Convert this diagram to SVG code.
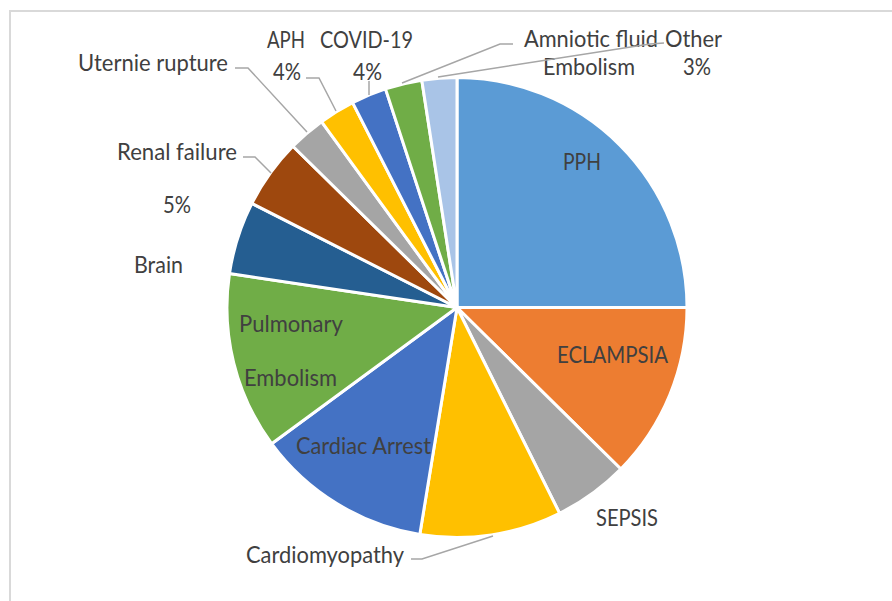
<svg xmlns="http://www.w3.org/2000/svg" width="892" height="601" viewBox="0 0 892 601">
<style>
.s{stroke:#fff;stroke-width:3;stroke-linejoin:round}
.t{font-family:Lato,"Open Sans",sans-serif;font-size:22.5px;fill:#404040;text-anchor:middle}
.l{fill:none;stroke:#a6a6a6;stroke-width:1.5}
</style>
<rect x="0" y="0" width="892" height="601" fill="#fff"/>
<rect x="10" y="11" width="900" height="620" fill="#fff" stroke="#d9d9d9" stroke-width="2"/>
<g id="slices">
<g id="pph"><path class="s" fill="#5B9BD5" d="M457 307.5L457 77.5A230 230 0 0 1 687 307.5Z"/><text class="t" x="582" y="170" textLength="38" lengthAdjust="spacingAndGlyphs">PPH</text></g>
<g id="eclampsia"><path class="s" fill="#ED7D31" d="M457 307.5L687 307.5A230 230 0 0 1 620.8 469Z"/><text class="t" x="612.5" y="363" textLength="111" lengthAdjust="spacingAndGlyphs">ECLAMPSIA</text></g>
<g id="sepsis"><path class="s" fill="#A5A5A5" d="M457 307.5L620.8 469A230 230 0 0 1 559.6 513.3Z"/><text class="t" x="627" y="526" textLength="62" lengthAdjust="spacingAndGlyphs">SEPSIS</text></g>
<g id="cardiomyopathy"><path class="s" fill="#FFC000" d="M457 307.5L559.6 513.3A230 230 0 0 1 419.8 534.5Z"/><text class="t" x="325" y="563" textLength="158" lengthAdjust="spacingAndGlyphs">Cardiomyopathy</text></g>
<g id="cardiac"><path class="s" fill="#4472C4" d="M457 307.5L419.8 534.5A230 230 0 0 1 271.6 443.7Z"/><text class="t" x="363.5" y="454" textLength="135" lengthAdjust="spacingAndGlyphs">Cardiac Arrest</text></g>
<g id="pulmonary"><path class="s" fill="#70AD47" d="M457 307.5L271.6 443.7A230 230 0 0 1 229.5 273.5Z"/><text class="t" x="291" y="332" textLength="104" lengthAdjust="spacingAndGlyphs">Pulmonary</text><text class="t" x="290.5" y="386" textLength="93" lengthAdjust="spacingAndGlyphs">Embolism</text></g>
<g id="brain"><path class="s" fill="#255E91" d="M457 307.5L229.5 273.5A230 230 0 0 1 251.9 203.4Z"/><text class="t" x="158.5" y="273" textLength="49" lengthAdjust="spacingAndGlyphs">Brain</text></g>
<g id="renal"><path class="s" fill="#9E480E" d="M457 307.5L251.9 203.4A230 230 0 0 1 292.9 146.3Z"/><text class="t" x="177" y="160" textLength="120" lengthAdjust="spacingAndGlyphs">Renal failure</text><text class="t" x="177" y="213" textLength="28" lengthAdjust="spacingAndGlyphs">5%</text></g>
<g id="uterine"><path class="s" fill="#A5A5A5" d="M457 307.5L292.9 146.3A230 230 0 0 1 321.5 121.7Z"/><text class="t" x="153" y="71" textLength="150" lengthAdjust="spacingAndGlyphs">Uternie rupture</text></g>
<g id="aph"><path class="s" fill="#FFC000" d="M457 307.5L321.5 121.7A230 230 0 0 1 352.6 102.6Z"/><text class="t" x="286" y="48" textLength="38" lengthAdjust="spacingAndGlyphs">APH</text><text class="t" x="287" y="80" textLength="28" lengthAdjust="spacingAndGlyphs">4%</text></g>
<g id="covid"><path class="s" fill="#4472C4" d="M457 307.5L352.6 102.6A230 230 0 0 1 385.5 88.9Z"/><text class="t" x="366.5" y="48" textLength="93" lengthAdjust="spacingAndGlyphs">COVID-19</text><text class="t" x="367.5" y="80" textLength="29" lengthAdjust="spacingAndGlyphs">4%</text></g>
<g id="amniotic"><path class="s" fill="#70AD47" d="M457 307.5L385.5 88.9A230 230 0 0 1 421.8 80.2Z"/><text class="t" x="591" y="47" textLength="134" lengthAdjust="spacingAndGlyphs">Amniotic fluid</text><text class="t" x="589" y="75" textLength="92" lengthAdjust="spacingAndGlyphs">Embolism</text></g>
<g id="other"><path class="s" fill="#A9C4E7" d="M457 307.5L421.8 80.2A230 230 0 0 1 457 77.5Z"/><text class="t" x="693.5" y="47" textLength="57" lengthAdjust="spacingAndGlyphs">Other</text><text class="t" x="697" y="75" textLength="28" lengthAdjust="spacingAndGlyphs">3%</text></g>
</g>
<g id="connectors">
<polyline class="l" points="235,68 248,68 307,132"/>
<polyline class="l" points="306,78 319,78 336,111"/>
<polyline class="l" points="369,81 369,95"/>
<polyline class="l" points="513,44 500,44 402,83"/>
<polyline class="l" points="664,43 650,44 438,77"/>
<polyline class="l" points="243,157 255,157 271,173"/>
<polyline class="l" points="411,559 422,559 493,536"/>
</g>
</svg>
